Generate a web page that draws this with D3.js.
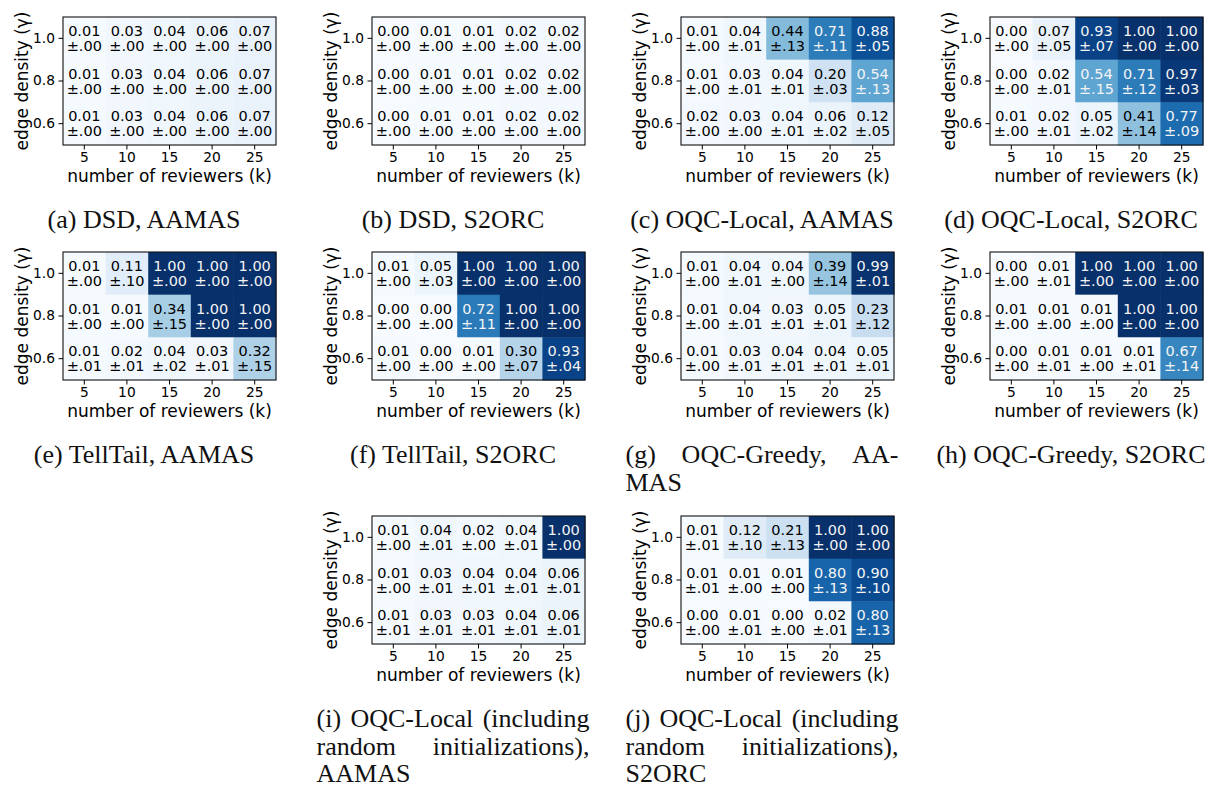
<!DOCTYPE html>
<html>
<head>
<meta charset="utf-8">
<script src="https://cdn.jsdelivr.net/npm/d3@7"></script>
<style>
  body { margin: 0; background: #fff; }
  svg { display: block; }
  .cell-text { font-family: "DejaVu Sans", sans-serif; font-size: 14.5px; }
  .tick text { font-family: "DejaVu Sans", sans-serif; font-size: 13.8px; fill: #000; }
  .axis-label { font-family: "DejaVu Sans", sans-serif; font-size: 17px; }
  .caption { font-family: "Liberation Serif", "Times New Roman", serif; font-size: 26px; fill: #111; }
</style>
</head>
<body>
<svg id="fig" width="1211" height="787"></svg>
<script>
const ks = [5, 10, 15, 20, 25];
const gammas = ["1.0", "0.8", "0.6"];

// rows: gamma 1.0, 0.8, 0.6 ; columns: k = 5..25
const dsdAamasMean = [[0.01, 0.03, 0.04, 0.06, 0.07], [0.01, 0.03, 0.04, 0.06, 0.07], [0.01, 0.03, 0.04, 0.06, 0.07]];
const dsdAamasStd  = [[0, 0, 0, 0, 0], [0, 0, 0, 0, 0], [0, 0, 0, 0, 0]];
const dsdS2orcMean = [[0.00, 0.01, 0.01, 0.02, 0.02], [0.00, 0.01, 0.01, 0.02, 0.02], [0.00, 0.01, 0.01, 0.02, 0.02]];
const dsdS2orcStd  = [[0, 0, 0, 0, 0], [0, 0, 0, 0, 0], [0, 0, 0, 0, 0]];
const localAamasMean = [[0.01, 0.04, 0.44, 0.71, 0.88], [0.01, 0.03, 0.04, 0.20, 0.54], [0.02, 0.03, 0.04, 0.06, 0.12]];
const localAamasStd  = [[0.00, 0.01, 0.13, 0.11, 0.05], [0.00, 0.01, 0.01, 0.03, 0.13], [0.00, 0.00, 0.01, 0.02, 0.05]];
const localS2orcMean = [[0.00, 0.07, 0.93, 1.00, 1.00], [0.00, 0.02, 0.54, 0.71, 0.97], [0.01, 0.02, 0.05, 0.41, 0.77]];
const localS2orcStd  = [[0.00, 0.05, 0.07, 0.00, 0.00], [0.00, 0.01, 0.15, 0.12, 0.03], [0.00, 0.01, 0.02, 0.14, 0.09]];
const tellAamasMean = [[0.01, 0.11, 1.00, 1.00, 1.00], [0.01, 0.01, 0.34, 1.00, 1.00], [0.01, 0.02, 0.04, 0.03, 0.32]];
const tellAamasStd  = [[0.00, 0.10, 0.00, 0.00, 0.00], [0.00, 0.00, 0.15, 0.00, 0.00], [0.01, 0.01, 0.02, 0.01, 0.15]];
const tellS2orcMean = [[0.01, 0.05, 1.00, 1.00, 1.00], [0.00, 0.00, 0.72, 1.00, 1.00], [0.01, 0.00, 0.01, 0.30, 0.93]];
const tellS2orcStd  = [[0.00, 0.03, 0.00, 0.00, 0.00], [0.00, 0.00, 0.11, 0.00, 0.00], [0.00, 0.00, 0.00, 0.07, 0.04]];
const greedyAamasMean = [[0.01, 0.04, 0.04, 0.39, 0.99], [0.01, 0.04, 0.03, 0.05, 0.23], [0.01, 0.03, 0.04, 0.04, 0.05]];
const greedyAamasStd  = [[0.00, 0.01, 0.00, 0.14, 0.01], [0.00, 0.01, 0.01, 0.01, 0.12], [0.00, 0.01, 0.01, 0.01, 0.01]];
const greedyS2orcMean = [[0.00, 0.01, 1.00, 1.00, 1.00], [0.01, 0.01, 0.01, 1.00, 1.00], [0.00, 0.01, 0.01, 0.01, 0.67]];
const greedyS2orcStd  = [[0.00, 0.01, 0.00, 0.00, 0.00], [0.00, 0.00, 0.00, 0.00, 0.00], [0.00, 0.01, 0.00, 0.01, 0.14]];
const randAamasMean = [[0.01, 0.04, 0.02, 0.04, 1.00], [0.01, 0.03, 0.04, 0.04, 0.06], [0.01, 0.03, 0.03, 0.04, 0.06]];
const randAamasStd  = [[0.00, 0.01, 0.00, 0.01, 0.00], [0.00, 0.01, 0.01, 0.01, 0.01], [0.01, 0.01, 0.01, 0.01, 0.01]];
const randS2orcMean = [[0.01, 0.12, 0.21, 1.00, 1.00], [0.01, 0.01, 0.01, 0.80, 0.90], [0.00, 0.01, 0.00, 0.02, 0.80]];
const randS2orcStd  = [[0.01, 0.10, 0.13, 0.00, 0.00], [0.01, 0.00, 0.00, 0.13, 0.10], [0.00, 0.01, 0.00, 0.01, 0.13]];

const captions = {
  a: ["(a) DSD, AAMAS"],
  b: ["(b) DSD, S2ORC"],
  c: ["(c) OQC-Local, AAMAS"],
  d: ["(d) OQC-Local, S2ORC"],
  e: ["(e) TellTail, AAMAS"],
  f: ["(f) TellTail, S2ORC"],
  g: ["(g) OQC-Greedy, AA-", "MAS"],
  h: ["(h) OQC-Greedy, S2ORC"],
  i: ["(i) OQC-Local (including", "random initializations),", "AAMAS"],
  j: ["(j) OQC-Local (including", "random initializations),", "S2ORC"]
};

const panels = [
  { id: "a", mean: dsdAamasMean, std: dsdAamasStd, row: 0, col: 0 },
  { id: "b", mean: dsdS2orcMean, std: dsdS2orcStd, row: 0, col: 1 },
  { id: "c", mean: localAamasMean, std: localAamasStd, row: 0, col: 2 },
  { id: "d", mean: localS2orcMean, std: localS2orcStd, row: 0, col: 3 },
  { id: "e", mean: tellAamasMean, std: tellAamasStd, row: 1, col: 0 },
  { id: "f", mean: tellS2orcMean, std: tellS2orcStd, row: 1, col: 1 },
  { id: "g", mean: greedyAamasMean, std: greedyAamasStd, row: 1, col: 2 },
  { id: "h", mean: greedyS2orcMean, std: greedyS2orcStd, row: 1, col: 3 },
  { id: "i", mean: randAamasMean, std: randAamasStd, row: 2, col: 1 },
  { id: "j", mean: randS2orcMean, std: randS2orcStd, row: 2, col: 2 }
];

const colCenters = [144, 453, 762, 1071];
const rowTops = [17, 252, 516];
const colWidth = 273;
const W = 213, H = 128;

const svg = d3.select("#fig");
const color = d3.scaleSequential(d3.interpolateBlues).domain([0, 1]);
const fmtMean = d3.format(".2f");
const fmtStd = s => "±" + d3.format(".2f")(s).replace(/^0/, "");

const x = d3.scaleBand().domain(ks).range([0, W]);
const y = d3.scaleBand().domain(gammas).range([0, H]);

function drawPanel(p) {
  const left = colCenters[p.col] - 81;
  const top = rowTops[p.row];
  const g = svg.append("g").attr("transform", `translate(${left},${top})`);

  const cells = [];
  p.mean.forEach((r, i) => r.forEach((m, j) => {
    cells.push({ gamma: gammas[i], k: ks[j], m, s: p.std[i][j] });
  }));

  g.selectAll("rect.cell").data(cells).enter().append("rect")
    .attr("class", "cell")
    .attr("x", d => x(d.k))
    .attr("y", d => y(d.gamma))
    .attr("width", x.bandwidth() + 0.5)
    .attr("height", y.bandwidth() + 0.5)
    .attr("fill", d => color(d.m));

  const labels = g.selectAll("text.cell-text").data(cells).enter().append("text")
    .attr("class", "cell-text")
    .attr("text-anchor", "middle")
    .attr("fill", d => d.m > 0.5 ? "#f4f4f4" : "#000");
  labels.append("tspan")
    .attr("x", d => x(d.k) + x.bandwidth() / 2)
    .attr("y", d => y(d.gamma) + y.bandwidth() / 2 - 2.5)
    .text(d => fmtMean(d.m));
  labels.append("tspan")
    .attr("x", d => x(d.k) + x.bandwidth() / 2)
    .attr("y", d => y(d.gamma) + y.bandwidth() / 2 + 12.5)
    .text(d => fmtStd(d.s));

  g.append("rect")
    .attr("width", W).attr("height", H)
    .attr("fill", "none").attr("stroke", "#111").attr("stroke-width", 1.1);

  const xAxis = g.append("g").attr("transform", `translate(0,${H})`)
    .call(d3.axisBottom(x).tickSize(4.5).tickPadding(3));
  const yAxis = g.append("g")
    .call(d3.axisLeft(y).tickSize(4.5).tickPadding(3.5));
  [xAxis, yAxis].forEach(a => {
    a.select(".domain").remove();
    a.selectAll(".tick line").attr("stroke", "#000");
  });

  g.append("text").attr("class", "axis-label")
    .attr("x", W / 2).attr("y", H + 37)
    .attr("text-anchor", "middle")
    .text("number of reviewers (k)");
  g.append("text").attr("class", "axis-label")
    .attr("transform", `translate(-35,${H / 2}) rotate(-90)`)
    .attr("text-anchor", "middle")
    .text("edge density (γ)");

  drawCaption(captions[p.id], colCenters[p.col], top + 211);
}

function drawCaption(lines, cx, baseY) {
  const x0 = cx - colWidth / 2;
  const lineH = 27.5;
  lines.forEach((line, li) => {
    const yy = baseY + li * lineH;
    if (lines.length === 1) {
      svg.append("text").attr("class", "caption")
        .attr("x", cx).attr("y", yy).attr("text-anchor", "middle").text(line);
      return;
    }
    const words = line.split(" ");
    if (li === lines.length - 1 || words.length < 2) {
      svg.append("text").attr("class", "caption")
        .attr("x", x0).attr("y", yy).text(line);
      return;
    }
    const nodes = words.map(w => svg.append("text").attr("class", "caption").attr("y", yy).text(w));
    const widths = nodes.map(n => n.node().getComputedTextLength());
    const gap = (colWidth - d3.sum(widths)) / (words.length - 1);
    let cur = x0;
    nodes.forEach((n, i) => { n.attr("x", cur); cur += widths[i] + gap; });
  });
}

panels.forEach(drawPanel);
</script>
</body>
</html>
